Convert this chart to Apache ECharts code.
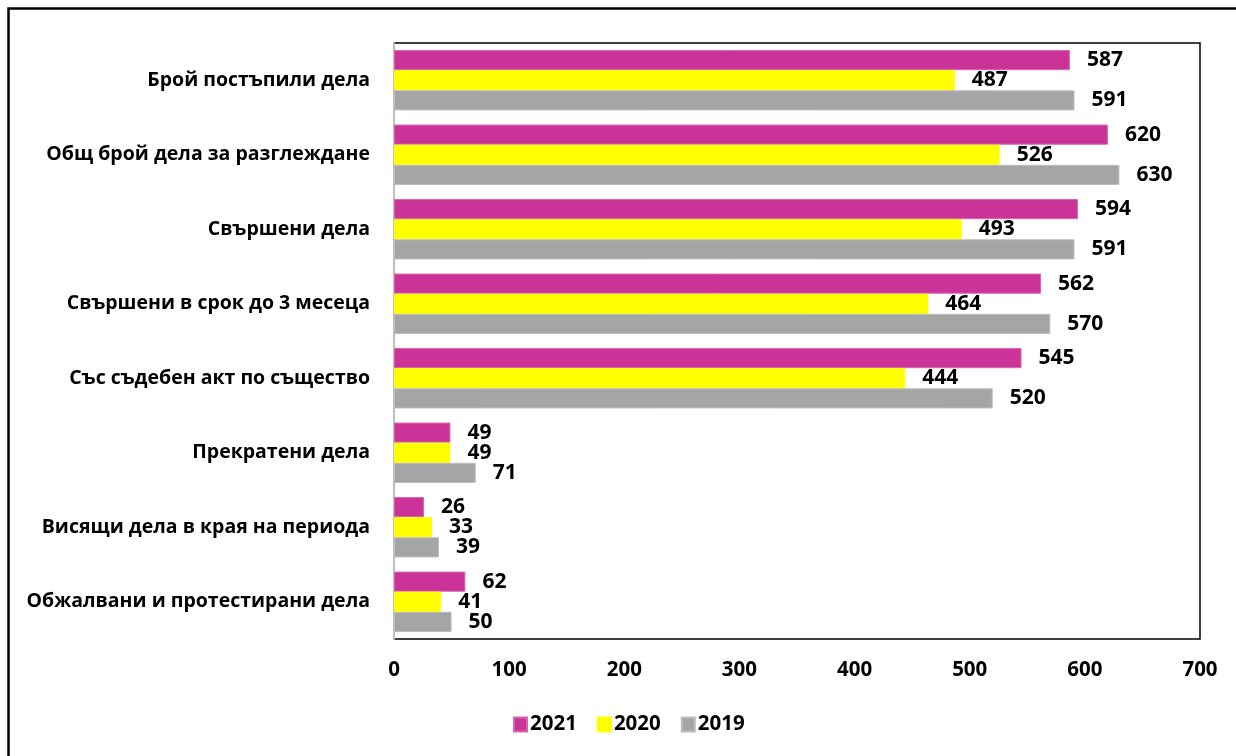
<!DOCTYPE html>
<html>
<head>
<meta charset="utf-8">
<style>
html,body{margin:0;padding:0;background:#fff;}
#chart{width:1236px;height:756px;}
</style>
<script src="https://cdn.jsdelivr.net/npm/echarts@6/dist/echarts.min.js"></script>
</head>
<body>
<div id="chart"></div>
<script>
const categories = [
  "Брой постъпили дела",
  "Общ брой дела за разглеждане",
  "Свършени дела",
  "Свършени в срок до 3 месеца",
  "Със съдебен акт по същество",
  "Прекратени дела",
  "Висящи дела в края на периода",
  "Обжалвани и протестирани дела"
];
const seriesNames = ["2021", "2020", "2019"];
const values2021 = [587, 620, 594, 562, 545, 49, 26, 62];
const values2020 = [487, 526, 493, 464, 444, 49, 33, 41];
const values2019 = [591, 630, 591, 570, 520, 71, 39, 50];
const xTicks = [0, 100, 200, 300, 400, 500, 600, 700];

const colors = ["#CC3399", "#FFFF00", "#A5A5A5"];
const borders = ["#D865AE", "#FFFF00", "#BDBDBD"];
const font = "Open Sans";

const chart = echarts.init(document.getElementById('chart'));
const dataSets = [values2021, values2020, values2019];
chart.setOption({
  animation: false,
  textStyle: { fontFamily: font },
  graphic: [{
    type: 'rect',
    shape: { x: 8.5, y: 8.5, width: 1240, height: 760 },
    style: { fill: 'none', stroke: '#000', lineWidth: 2.5 },
    silent: true
  }],
  legend: {
    data: seriesNames,
    top: 709,
    left: 508,
    itemWidth: 13,
    itemHeight: 14,
    itemGap: 20,
    icon: 'rect',
    textStyle: { fontFamily: font, fontWeight: 'bold', fontSize: 20.5, color: '#000', padding: [0, 0, 0, -2] }
  },
  grid: {
    left: 394, right: 36, top: 43, bottom: 117,
    show: true, borderColor: '#000', borderWidth: 1.5, backgroundColor: '#fff'
  },
  xAxis: {
    type: 'value',
    min: xTicks[0], max: xTicks[xTicks.length - 1], interval: 100,
    axisLine: { show: false },
    axisTick: { show: false },
    splitLine: { show: false },
    axisLabel: { margin: 21, fontFamily: font, fontWeight: 'bold', fontSize: 20.5, color: '#000' }
  },
  yAxis: {
    type: 'category',
    data: categories,
    inverse: true,
    axisLine: { show: true, lineStyle: { color: '#BFBFBF', width: 2 } },
    axisTick: { show: false },
    axisLabel: { margin: 24, fontFamily: font, fontWeight: 'bold', fontSize: 19.5, color: '#000' }
  },
  series: seriesNames.map((name, i) => ({
    name: name,
    type: 'bar',
    data: dataSets[i],
    barGap: '0%',
    barCategoryGap: '19%',
    itemStyle: { color: colors[i], borderColor: borders[i], borderWidth: 1 },
    label: {
      show: true, position: 'right', distance: 17,
      fontFamily: font, fontWeight: 'bold', fontSize: 21, color: '#000'
    }
  }))
});
</script>
</body>
</html>
